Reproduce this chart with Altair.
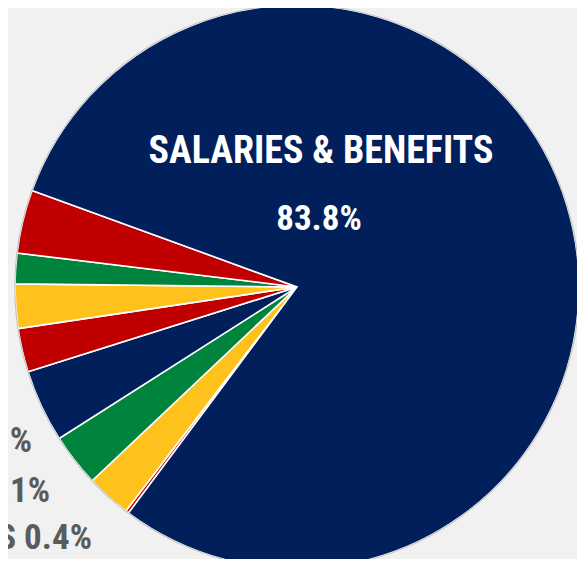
import altair as alt
import pandas as pd

# ---- data ----
categories = ["Transfers", "Utilities", "Supplies", "Services", "Equipment",
              "Training", "Travel", "Other", "Salaries & Benefits"]
shares = [0.19, 2.56, 3.03, 4.17, 2.50, 2.53, 1.75, 3.64, 79.63]
slice_colors = ["#C00000", "#FFC21C", "#00843D", "#001F5B", "#C00000",
                "#FFC21C", "#00843D", "#C00000", "#001F5B"]

main_label = "SALARIES & BENEFITS"
main_pct = "83.8%"
side_labels = ["TRAVEL /", "OTHER 3.6%", "SERVICES 4.2%", "SUPPLIES 3.1%",
               "UTILITIES 2.1%", "TRANSFERS 0.4%"]

# ---- layout / style ----
W, H = 569, 551
CX, CY, R = 289, 279, 282
START = 216.7 * 3.14159265 / 180.0
TAU = 6.28318531
FONT = ("Roboto Condensed, Noto Sans ExtraCondensed, Noto Sans Condensed, "
        "Open Sans Condensed, Liberation Sans Narrow, DejaVu Sans Condensed, sans-serif")

df = pd.DataFrame({"category": categories, "share": shares,
                   "color": slice_colors, "idx": list(range(len(categories)))})

one = pd.DataFrame({"k": [0]})

# soft shadow
shadow_r = pd.DataFrame({"r": list(range(283, 320, 3))})
shadow = alt.Chart(shadow_r).mark_arc(
    x=CX + 6, y=CY + 1, theta=0, theta2=TAU, color="black", opacity=0.055
).encode(radius=alt.Radius("r:Q", scale=None))

pie = alt.Chart(df).mark_arc(
    x=CX, y=CY, outerRadius=R, stroke="white", strokeWidth=1.6
).encode(
    theta=alt.Theta("share:Q", stack=True,
                    scale=alt.Scale(domain=[0, 100], range=[START, START + TAU])),
    color=alt.Color("color:N", scale=None),
    order=alt.Order("idx:Q"),
)

ring = alt.Chart(one).mark_arc(
    x=CX, y=CY, radius=R + 0.8, radius2=R - 0.4, theta=0, theta2=TAU, color="#c4c4c4"
).encode(opacity=alt.value(1))

title = alt.Chart(one).mark_text(
    x=313, y=144, text=main_label, font=FONT, fontSize=38, fontWeight="bold",
    color="white", align="center", baseline="middle"
).encode(opacity=alt.value(1))

pct = alt.Chart(one).mark_text(
    x=311, y=211, text=main_pct, font=FONT, fontSize=35, fontWeight="bold",
    color="white", align="center", baseline="middle"
).encode(opacity=alt.value(1))

label_pos = [(-3, 163, 22), (-2, 202, 35), (0, 385, 35), (24, 433, 35),
             (42, 483, 35), (84, 530, 35)]
label_layers = []
for txt, (lx, ly, fs) in zip(side_labels, label_pos):
    label_layers.append(
        alt.Chart(one).mark_text(
            x=lx, y=ly, text=txt, font=FONT, fontSize=fs, fontWeight="bold",
            color="#5b5b5b", align="right", baseline="middle"
        ).encode(opacity=alt.value(1))
    )

chart = alt.layer(shadow, pie, ring, title, pct, *label_layers).properties(
    width=W, height=H, padding=0, background="white",
    autosize=alt.AutoSizeParams(type="none"),
).configure_view(stroke=None)

chart.save("out.html", embed_options={"renderer": "svg", "actions": False})
